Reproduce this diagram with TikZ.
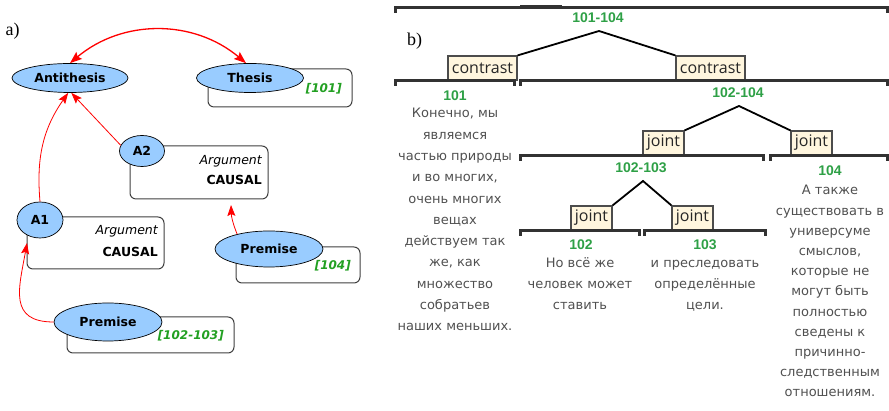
\documentclass[tikz,border=0pt]{standalone}
\usepackage{fontspec}
\usepackage{xcolor}
\usepackage{tikz}
\usetikzlibrary{arrows.meta,shapes.geometric}
\newfontfamily\verdana{DejaVu Sans}
\newfontfamily\segoe{Open Sans}
\newfontfamily\arial{Liberation Sans}
\newfontfamily\serifpart{Liberation Serif}
\definecolor{argblue}{RGB}{153,204,255}
\definecolor{srcgreen}{RGB}{34,160,34}
\definecolor{rstgreen}{RGB}{46,160,70}
\definecolor{relfill}{RGB}{255,246,222}
\definecolor{bargray}{RGB}{50,50,50}
\definecolor{edugray}{RGB}{80,80,80}
\def\width{889}
\def\hauteur{411}
\newcommand{\rstseg}[3]{\draw[rstbar] (#1,#3-5) -- (#1,#3) -- (#2,#3) -- (#2,#3-5);}

\begin{document}
\begin{tikzpicture}[x=1pt, y=1pt,
    argnode/.style={ellipse, draw=black, line width=0.7pt, fill=argblue, inner sep=0pt,
      font=\verdana\bfseries\fontsize{12.5}{15}\selectfont},
    argbox/.style={draw=black!75, line width=1pt, rounded corners=6pt, fill=white, inner sep=0pt},
    suparrow/.style={red, line width=0.8pt, -{Stealth[length=11pt,width=8pt,inset=2pt]}},
    conflarrow/.style={red, line width=1.3pt,
      {Stealth[length=12pt,width=9pt,inset=2pt]}-{Stealth[length=12pt,width=9pt,inset=2pt]}},
    schemetxt/.style={anchor=base east, inner sep=0pt},
    srctxt/.style={font=\verdana\bfseries\itshape\fontsize{12}{14}\selectfont, text=srcgreen,
      anchor=base east, inner sep=0pt},
    partlbl/.style={font=\serifpart\fontsize{18}{20}\selectfont, inner sep=0pt},
    rstbar/.style={draw=bargray, line width=3pt},
    nucline/.style={draw=black, line width=1.8pt},
    relbox/.style={draw=black!70, line width=1.1pt, fill=relfill, inner sep=0pt, minimum height=24pt,
      font=\segoe\fontsize{16}{18}\selectfont, text=black!85},
    spanlbl/.style={font=\arial\bfseries\fontsize{14}{16}\selectfont, text=rstgreen, inner sep=0pt},
    edutxt/.style={font=\verdana\fontsize{13}{21}\selectfont, text=edugray, align=center,
      anchor=north, inner sep=0pt}]
\useasboundingbox (0,0) rectangle (\width,\hauteur);

% a) argument graph
\node[partlbl] (lbla) at (12.5,380) {a)};
\node[argbox, minimum width=144pt, minimum height=38pt] (thbox) at (280,323) {};
\node[argnode, minimum width=116pt, minimum height=29pt] (anti) at (70,333) {Antithesis};
\node[argnode, minimum width=107pt, minimum height=29pt] (thesis) at (250,333) {Thesis};
\node[srctxt] (src101) at (342,318) {[101]};

\node[argbox, minimum width=138pt, minimum height=53pt] (a2box) at (199,238.5) {};
\node[argnode, minimum width=45pt, minimum height=31pt] (a2) at (142,260) {A2};
\node[schemetxt, font=\verdana\itshape\fontsize{12.5}{15}\selectfont] (a2arg) at (262,246) {Argument};
\node[schemetxt, font=\verdana\bfseries\fontsize{12.5}{15}\selectfont] (a2sch) at (262,226) {CAUSAL};

\node[argbox, minimum width=137pt, minimum height=52pt] (a1box) at (95.5,168) {};
\node[argnode, minimum width=46pt, minimum height=36pt] (a1) at (40,191) {A1};
\node[schemetxt, font=\verdana\itshape\fontsize{12.5}{15}\selectfont] (a1arg) at (158,176) {Argument};
\node[schemetxt, font=\verdana\bfseries\fontsize{12.5}{15}\selectfont] (a1sch) at (158,154) {CAUSAL};

\node[argbox, minimum width=124pt, minimum height=36pt] (p104box) at (298,146) {};
\node[argnode, minimum width=108pt, minimum height=36pt] (p104) at (269,162) {Premise};
\node[srctxt] (src104) at (351,141) {[104]};

\node[argbox, minimum width=167pt, minimum height=36pt] (p102box) at (150.5,76) {};
\node[argnode, minimum width=108pt, minimum height=38pt] (p102) at (108,89) {Premise};
\node[srctxt] (src102) at (224,71) {[102-103]};

\coordinate (a2in) at (231,206);
\coordinate (a1in) at (27,168);
\draw[conflarrow] (anti.north) to[bend left=40] (thesis.105);
\draw[suparrow] (a2.165) -- (anti.-85);
\draw[suparrow] (a1.north) to[out=95,in=-125] (anti.-97);
\draw[suparrow] (p104.155) to[bend left=10] (a2in);
\draw[suparrow] (p102.west) to[out=180,in=-100,looseness=1.4] (a1in);

% b) RST tree
\node[partlbl] (lblb) at (414.5,370) {b)};
\rstseg{395}{887}{403}
\draw[bargray, line width=2pt] (520,405) -- (562,405);
\node[spanlbl] (s1) at (598,393) {101-104};
\coordinate (peak1) at (599,380);
\node[relbox, minimum width=69pt] (ctrA) at (482.5,343) {contrast};
\node[relbox, minimum width=69pt] (ctrB) at (710.5,343) {contrast};
\draw[nucline] (ctrA.north east) -- (peak1) -- (ctrB.north west);
\rstseg{395}{514}{330}
\rstseg{520}{887}{330}
\node[spanlbl] (s101) at (455,315) {101};
\node[edutxt, font=\verdana\fontsize{13}{21.3}\selectfont] (e101) at (455,303.4)
  {\vphantom{Кб}Конечно, мы\\являемся\\частью природы\\и во многих,\\очень многих\\вещах\\действуем так\\же, как\\множество\\собратьев\\наших меньших.};

\node[spanlbl] (s2) at (738,318) {102-104};
\coordinate (peak2) at (739,305);
\node[relbox, minimum width=41pt] (jntA) at (663.5,268) {joint};
\node[relbox, minimum width=41pt] (jntB) at (811.5,268) {joint};
\draw[nucline] (jntA.north east) -- (peak2) -- (jntB.north west);
\rstseg{520}{763}{255}
\rstseg{770}{887}{255}
\node[spanlbl] (s104) at (830,240) {104};
\node[edutxt, font=\verdana\fontsize{13}{20.2}\selectfont] (e104) at (830,226.4)
  {\vphantom{Кб}А также\\существовать в\\универсуме\\смыслов,\\которые не\\могут быть\\полностью\\сведены к\\причинно-\\следственным\\отношениям.};

\node[spanlbl] (s3) at (641,243) {102-103};
\coordinate (peak3) at (643,230);
\node[relbox, minimum width=41pt] (jntC) at (591.5,193) {joint};
\node[relbox, minimum width=41pt] (jntD) at (692.5,193) {joint};
\draw[nucline] (jntC.north east) -- (peak3) -- (jntD.north west);
\rstseg{520}{639}{180}
\rstseg{644}{765}{180}
\node[spanlbl] (s102) at (581,166) {102};
\node[spanlbl] (s103) at (705,166) {103};
\node[edutxt] (e102) at (580,153.4) {\vphantom{Кб}Но всё же\\человек может\\ставить};
\node[edutxt] (e103) at (705,153.4) {\vphantom{Кб}и преследовать\\определённые\\цели.};
\end{tikzpicture}
\end{document}
